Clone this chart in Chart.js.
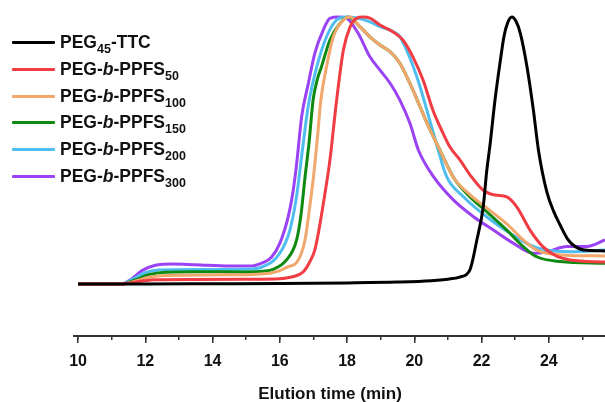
<!DOCTYPE html>
<html>
<head>
<meta charset="utf-8">
<script src="https://cdn.jsdelivr.net/npm/chart.js@4.4.1/dist/chart.umd.min.js"></script>
<style>
  body { margin: 0; background: #fff; }
  #wrap { position: relative; width: 605px; height: 402px; }
  #legend { position: absolute; left: 0; top: 0; font-family: "Liberation Sans", Arial, sans-serif; font-weight: bold; font-size: 17.5px; color: #111; }
  .row { position: absolute; left: 0; height: 26px; display: flex; align-items: center; white-space: nowrap; }
  .swatch { display: inline-block; width: 43px; height: 3px; margin-left: 12px; margin-right: 5px; border-radius: 1px; }
  .row sub { font-size: 12.5px; vertical-align: -5px; line-height: 0; }
</style>
</head>
<body>
<div id="wrap">
  <canvas id="gpc" width="605" height="402"></canvas>
  <div id="legend"></div>
</div>
<script>
  // Elution time (min) and normalized RI signal for each sample
  const ttcTime = [10, 12, 14, 16, 18, 19.5, 20.5, 21.0, 21.35, 21.65, 21.86, 22.05, 22.15, 22.25, 22.4, 22.55, 22.67, 22.78, 22.9, 23.02, 23.15, 23.35, 23.54, 23.69, 23.94, 24.15, 24.34, 24.55, 24.72, 24.95, 25.14, 25.67];
  const ttcSignal = [0, 0, 0.001, 0.002, 0.004, 0.007, 0.012, 0.018, 0.026, 0.052, 0.165, 0.29, 0.42, 0.52, 0.69, 0.83, 0.93, 0.98, 1.0, 0.985, 0.94, 0.814, 0.652, 0.502, 0.345, 0.27, 0.22, 0.17, 0.146, 0.13, 0.126, 0.124];

  const ppfs50Time = [10, 11.3, 11.6, 11.9, 12.3, 13.5, 15.0, 16.0, 16.35, 16.7, 16.9, 17.04, 17.16, 17.28, 17.49, 17.69, 17.89, 18.09, 18.29, 18.47, 18.68, 18.98, 19.37, 19.66, 19.96, 20.26, 20.55, 20.85, 21.06, 21.36, 21.66, 22.04, 22.4, 22.75, 23.05, 23.44, 23.83, 24.22, 24.63, 25.67];
  const ppfs50Signal = [0, 0, 0.005, 0.011, 0.016, 0.017, 0.018, 0.02, 0.026, 0.046, 0.085, 0.127, 0.2, 0.29, 0.464, 0.689, 0.876, 0.963, 0.996, 1.0, 0.996, 0.97, 0.944, 0.914, 0.85, 0.764, 0.652, 0.566, 0.513, 0.464, 0.408, 0.352, 0.333, 0.326, 0.288, 0.202, 0.139, 0.105, 0.09, 0.082];

  const ppfs100Time = [10, 11.3, 11.7, 12.1, 12.6, 14.0, 15.2, 15.7, 16.0, 16.25, 16.5, 16.75, 16.87, 17.0, 17.12, 17.22, 17.39, 17.59, 17.89, 18.09, 18.38, 18.68, 18.98, 19.28, 19.57, 19.87, 20.17, 20.47, 20.76, 21.16, 21.65, 22.15, 22.75, 23.24, 23.64, 24.34, 25.67];
  const ppfs100Signal = [0, 0, 0.01, 0.025, 0.032, 0.034, 0.036, 0.04, 0.05, 0.065, 0.08, 0.165, 0.27, 0.4, 0.55, 0.689, 0.814, 0.926, 0.989, 1.0, 0.964, 0.926, 0.895, 0.87, 0.827, 0.751, 0.664, 0.577, 0.502, 0.4, 0.335, 0.285, 0.225, 0.165, 0.127, 0.109, 0.105];

  const ppfs150Time = [10, 11.3, 11.7, 12.1, 12.6, 13.5, 15.0, 15.5, 15.8, 16.2, 16.5, 16.63, 16.75, 16.87, 16.99, 17.11, 17.24, 17.49, 17.79, 18.04, 18.38, 18.68, 18.98, 19.28, 19.57, 19.87, 20.17, 20.47, 20.76, 21.16, 21.65, 22.15, 22.75, 23.24, 23.64, 24.34, 25.67];
  const ppfs150Signal = [0, 0, 0.015, 0.035, 0.044, 0.046, 0.045, 0.048, 0.055, 0.09, 0.165, 0.26, 0.4, 0.53, 0.689, 0.764, 0.814, 0.914, 0.976, 1.0, 0.964, 0.926, 0.895, 0.87, 0.827, 0.751, 0.664, 0.577, 0.502, 0.4, 0.327, 0.271, 0.202, 0.14, 0.102, 0.084, 0.078];

  const ppfs200Time = [10, 11.3, 11.65, 12.0, 12.4, 13.5, 15.0, 15.5, 16.0, 16.3, 16.5, 16.65, 16.85, 17.1, 17.39, 17.69, 17.99, 18.29, 18.68, 18.98, 19.28, 19.57, 19.77, 19.97, 20.17, 20.37, 20.57, 20.71, 20.96, 21.46, 22.15, 22.85, 23.44, 23.94, 24.63, 25.67];
  const ppfs200Signal = [0, 0, 0.02, 0.042, 0.052, 0.054, 0.055, 0.065, 0.115, 0.202, 0.33, 0.48, 0.67, 0.814, 0.926, 0.989, 1.0, 0.996, 0.982, 0.964, 0.951, 0.926, 0.876, 0.814, 0.739, 0.652, 0.564, 0.502, 0.402, 0.327, 0.252, 0.19, 0.146, 0.127, 0.121, 0.127];

  const ppfs300Time = [10, 11.3, 11.6, 11.9, 12.3, 12.8, 13.5, 14.5, 15.1, 15.5, 15.75, 16.0, 16.25, 16.4, 16.5, 16.65, 16.85, 17.04, 17.29, 17.49, 17.74, 17.99, 18.33, 18.68, 18.98, 19.28, 19.57, 19.87, 20.12, 20.57, 21.16, 21.76, 22.35, 22.95, 23.54, 23.94, 24.54, 25.13, 25.67];
  const ppfs300Signal = [0, 0, 0.02, 0.05, 0.07, 0.075, 0.072, 0.067, 0.067, 0.08, 0.1, 0.152, 0.252, 0.352, 0.45, 0.627, 0.752, 0.864, 0.951, 0.995, 1.0, 0.995, 0.939, 0.851, 0.801, 0.752, 0.689, 0.602, 0.502, 0.402, 0.315, 0.252, 0.202, 0.152, 0.115, 0.121, 0.14, 0.14, 0.165];

  const seriesLabels = ['PEG45-TTC', 'PEG-b-PPFS50', 'PEG-b-PPFS100', 'PEG-b-PPFS150', 'PEG-b-PPFS200', 'PEG-b-PPFS300'];
  const legendMarkup = ['PEG<sub>45</sub>-TTC', 'PEG-<i>b</i>-PPFS<sub>50</sub>', 'PEG-<i>b</i>-PPFS<sub>100</sub>', 'PEG-<i>b</i>-PPFS<sub>150</sub>', 'PEG-<i>b</i>-PPFS<sub>200</sub>', 'PEG-<i>b</i>-PPFS<sub>300</sub>'];
  const seriesColors = ['#000000', '#f03c42', '#f2a76c', '#0f8a10', '#4fbdf0', '#9a42f4'];
  const times = [ttcTime, ppfs50Time, ppfs100Time, ppfs150Time, ppfs200Time, ppfs300Time];
  const signals = [ttcSignal, ppfs50Signal, ppfs100Signal, ppfs150Signal, ppfs200Signal, ppfs300Signal];

  const datasets = seriesLabels.map((label, i) => ({
      label: label,
      data: times[i].map((t, j) => ({ x: t, y: signals[i][j] })),
      borderColor: seriesColors[i],
      borderWidth: 3,
      pointRadius: 0,
      cubicInterpolationMode: 'monotone',
      fill: false
  }));

  const axisFont = { family: '"Liberation Sans", Arial, sans-serif', weight: 'bold' };

  new Chart(document.getElementById('gpc').getContext('2d'), {
      type: 'line',
      data: { datasets: datasets },
      options: {
          responsive: false,
          animation: false,
          layout: { padding: { left: 74, right: 0, top: 5, bottom: 0 } },
          plugins: { legend: { display: false }, tooltip: { enabled: false } },
          scales: {
              // minor ticks, zero height, sits right on the chart edge
              xMinor: {
                  type: 'linear',
                  position: 'bottom',
                  weight: 0,
                  min: 9.88,
                  max: 25.67,
                  border: { display: false },
                  grid: { drawOnChartArea: false, drawTicks: true, tickLength: 4, color: '#333', lineWidth: 1.5 },
                  ticks: { stepSize: 1, includeBounds: false, display: false },
                  afterFit: scale => { scale.height = 0; }
              },
              x: {
                  type: 'linear',
                  position: 'bottom',
                  weight: 1,
                  min: 9.88,
                  max: 25.67,
                  border: { display: true, color: '#333', width: 2 },
                  grid: { drawOnChartArea: false, drawTicks: true, tickLength: 7, color: '#333', lineWidth: 1.5 },
                  ticks: {
                      stepSize: 2,
                      includeBounds: false,
                      padding: 9,
                      color: '#111',
                      font: { ...axisFont, size: 16 }
                  },
                  title: {
                      display: true,
                      text: 'Elution time (min)\u00a0\u00a0\u00a0\u00a0',
                      color: '#111',
                      font: { ...axisFont, size: 17 },
                      padding: { top: 0, bottom: -3 }
                  },
                  afterFit: scale => { scale.height = 66; }
              },
              y: {
                  display: false,
                  min: -0.1948,
                  max: 1.045
              }
          }
      }
  });

  // Legend with subscripts and italics
  const legend = document.getElementById('legend');
  legendMarkup.forEach((html, i) => {
      const row = document.createElement('div');
      row.className = 'row';
      row.style.top = (42.7 + 26.7 * i - 13) + 'px';
      row.innerHTML = '<span class="swatch" style="background:' + seriesColors[i] + '"></span><span>' + html + '</span>';
      legend.appendChild(row);
  });
</script>
</body>
</html>
